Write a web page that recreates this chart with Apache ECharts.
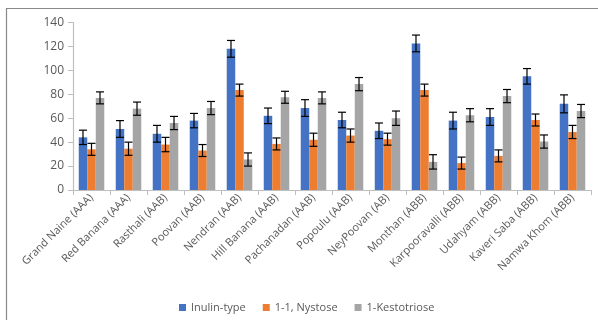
<!DOCTYPE html>
<html><head><meta charset="utf-8">
<script src="https://cdn.jsdelivr.net/npm/echarts@6/dist/echarts.min.js"></script>
<style>html,body{margin:0;padding:0;background:#fff}#c{width:598px;height:320px}</style>
</head><body><div id="c"></div>
<script>
var categories = ["Grand Naine (AAA)","Red Banana (AAA)","Rasthali (AAB)","Poovan (AAB)","Nendran (AAB)","Hill Banana (AAB)","Pachanadan (AAB)","Popoulu (AAB)","NeyPoovan (AB)","Monthan (ABB)","Karpooravalli (ABB)","Udahyam (ABB)","Kaveri Saba (ABB)","Namwa Khom (ABB)"];
var seriesNames = ["Inulin-type","1-1, Nystose","1-Kestotriose"];
var inulin = [44,51,47,58,118,62,68.5,58.5,49.5,122.5,58,61,95,72];
var nystose = [34,34.5,38,33,83.5,38.5,42,45.5,42.5,83.5,22.5,28.5,58.5,48.5];
var kestotriose = [77,68,56,68.5,25.5,77.5,77,88.5,60,23.5,62.5,78.5,40.5,66];
var inulinErr = [6,7,7,6,7,6.5,7,6.5,6.5,7,7,7,6.5,7.5];
var nystoseErr = [5,5.5,6,5,5,5,5.5,5.5,5,5,5,5,5,5.5];
var kestotrioseErr = [5,5.5,5.5,5.5,5.5,5,5,5.5,6,6,5.5,5.5,5.5,5.5];
var yTicks = [0,20,40,60,80,100,120,140];

var values = [inulin, nystose, kestotriose];
var errs = [inulinErr, nystoseErr, kestotrioseErr];
var colors = ['#4472C4','#ED7D31','#A5A5A5'];
var catGap = 0.31;
var errData = [];
for (var s = 0; s < 3; s++) for (var i = 0; i < categories.length; i++) errData.push([i, values[s][i], errs[s][i], s]);

var chart = echarts.init(document.getElementById('c'), null, {renderer:'canvas'});
var txt = '#595959';
var series = seriesNames.map(function(n, s){
  return {name:n, type:'bar', data:values[s], itemStyle:{color:colors[s]}, barGap:'0%', barCategoryGap:(catGap*100)+'%'};
});
series.push({
  type:'custom', silent:true, z:10,
  data: errData,
  encode:{x:0, y:1},
  renderItem:function(params, api){
    var ci = api.value(0), v = api.value(1), e = api.value(2), s = api.value(3);
    var band = api.size([1,0])[0];
    var bw = band*(1-catGap)/3;
    var c = api.coord([ci, v]);
    var x = c[0] + (s-1)*bw;
    var yt = api.coord([ci, v+e])[1], yb = api.coord([ci, v-e])[1];
    var cap = 4;
    var st = {stroke:'#000', lineWidth:1.2};
    return {type:'group', children:[
      {type:'line', shape:{x1:x,y1:yt,x2:x,y2:yb}, style:st},
      {type:'line', shape:{x1:x-cap,y1:yt,x2:x+cap,y2:yt}, style:st},
      {type:'line', shape:{x1:x-cap,y1:yb,x2:x+cap,y2:yb}, style:st}
    ]};
  }
});
chart.setOption({
  animation:false,
  textStyle:{fontFamily:'Open Sans'},
  graphic:[{type:'rect', shape:{x:6.5,y:8.5,width:700,height:400}, style:{fill:'none', stroke:'#888', lineWidth:1.2}, silent:true}],
  grid:{left:73, right:7, top:22.5, bottom:130, containLabel:false},
  legend:{data:seriesNames, bottom:2, left:174, itemWidth:7, itemHeight:7, itemGap:17, icon:'rect',
    textStyle:{color:txt, fontSize:11, fontFamily:'Open Sans'}},
  xAxis:{type:'category', data:categories,
    axisLine:{lineStyle:{color:'#BFBFBF', width:1.2}},
    axisTick:{show:true, length:5, lineStyle:{color:'#BFBFBF'}},
    axisLabel:{rotate:45, color:txt, fontSize:11, interval:0, margin:6, fontFamily:'Open Sans'}},
  yAxis:{type:'value', min:yTicks[0], max:yTicks[yTicks.length-1], interval:20,
    splitLine:{show:false},
    axisLine:{show:true, lineStyle:{color:'#BFBFBF', width:1.2}},
    axisTick:{show:true, length:5, lineStyle:{color:'#BFBFBF'}},
    axisLabel:{color:txt, fontSize:12, margin:9, fontFamily:'Open Sans'}},
  series:series
});
</script></body></html>
